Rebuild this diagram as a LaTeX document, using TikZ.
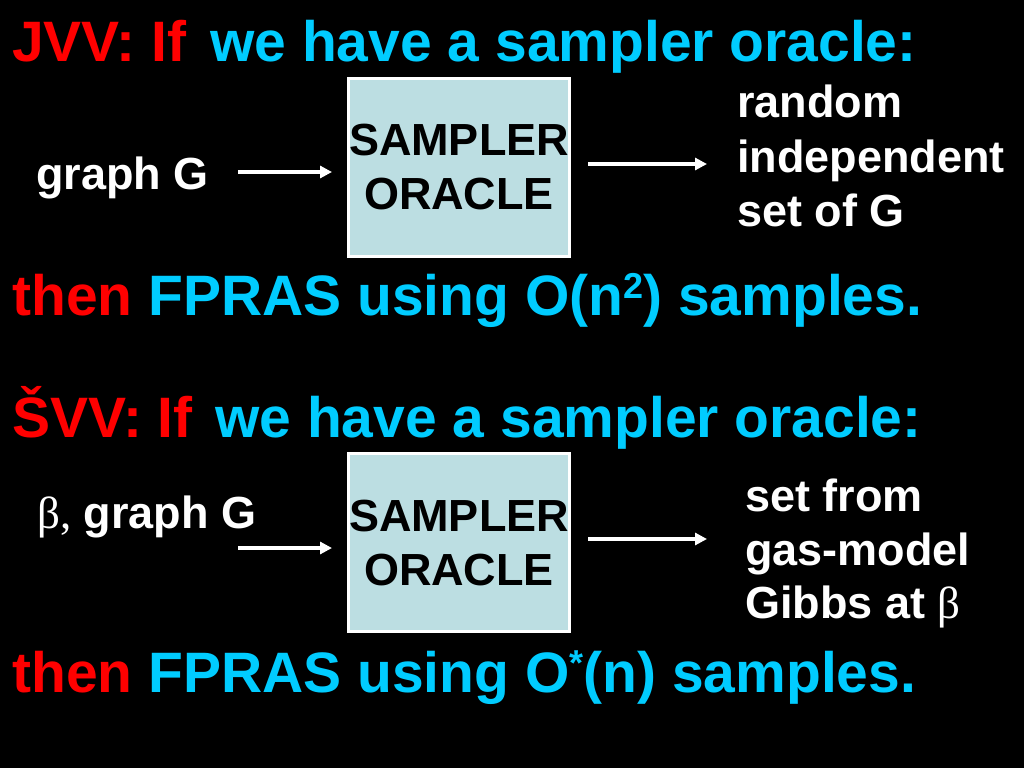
\documentclass[tikz,border=0pt]{standalone}
\usepackage{fontspec}
\setmainfont{Liberation Sans}
\newfontfamily\serifgreek{Liberation Serif}
\usetikzlibrary{arrows.meta}
\definecolor{hred}{RGB}{255,0,0}
\definecolor{hcyan}{RGB}{0,204,255}
\definecolor{boxfill}{RGB}{188,222,226}
\newcommand{\supsmall}[1]{\raisebox{17pt}{\fontsize{36}{36}\selectfont #1}}
\begin{document}
\begin{tikzpicture}[x=1pt,y=-1pt,
  big/.style={anchor=base west,inner sep=0pt,font=\fontsize{57}{68}\selectfont\bfseries},
  med/.style={anchor=base west,inner sep=0pt,text=white,font=\fontsize{45}{54}\selectfont\bfseries},
  oraclebox/.style={draw=white,line width=3pt,fill=boxfill,minimum width=221pt,minimum height=178pt,
    inner sep=0pt,align=center,text=black,font=\fontsize{45}{54}\selectfont\bfseries},
  flow/.style={draw=white,line width=3.5pt,-{Triangle[length=12pt,width=12pt]}}]
\fill[black] (0,0) rectangle (1024,768);
\useasboundingbox (0,0) rectangle (1024,768);

% ---- JVV part ----
\node[big,text=hred] (h1a) at (12,62) {JVV: If};
\node[big,text=hcyan] (h1b) at (210,62) {we have a sampler oracle:};
\node[oraclebox] (box1) at (459,167.5) {SAMPLER\\ORACLE};
\node[med] (in1) at (36,189) {graph G};
\coordinate (in1e) at (238,172);
\draw[flow,shorten >=15pt] (in1e) -- (in1e -| box1.west);
\coordinate (out1e) at (707,164);
\draw[flow,shorten <=17pt] (out1e -| box1.east) -- (out1e);
\node[med] (o1a) at (737,117) {random};
\node[med] (o1b) at (737,172) {independent};
\node[med] (o1c) at (737,226) {set of G};
\node[big] (c1) at (12,315) {\textcolor{hred}{then} \textcolor{hcyan}{FPRAS using O(n\supsmall{2}) samples.}};

% ---- SVV part ----
\node[big,text=hred] (h2a) at (12,437) {ŠVV: If};
\node[big,text=hcyan] (h2b) at (215,437) {we have a sampler oracle:};
\node[oraclebox] (box2) at (459,542.5) {SAMPLER\\ORACLE};
\node[med] (in2) at (37,528) {{\serifgreek\mdseries β,} graph G};
\coordinate (in2e) at (238,548);
\draw[flow,shorten >=15pt] (in2e) -- (in2e -| box2.west);
\coordinate (out2e) at (707,539);
\draw[flow,shorten <=17pt] (out2e -| box2.east) -- (out2e);
\node[med] (o2a) at (745,511) {set from};
\node[med] (o2b) at (745,565) {gas-model};
\node[med] (o2c) at (745,618) {Gibbs at {\serifgreek\mdseries β}};
\node[big] (c2) at (12,692) {\textcolor{hred}{then} \textcolor{hcyan}{FPRAS using O\supsmall{*}(n) samples.}};
\end{tikzpicture}
\end{document}
